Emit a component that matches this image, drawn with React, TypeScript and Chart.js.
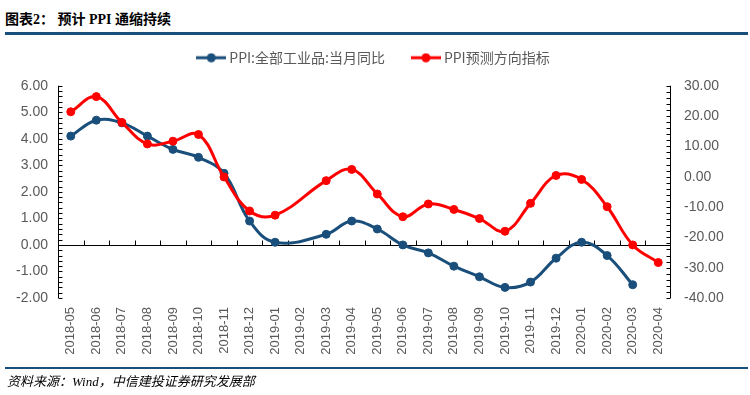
import React, { useEffect, useRef } from "react";
import { Chart, registerables } from "chart.js";

Chart.register(...registerables);

const categories = [
  "2018-05", "2018-06", "2018-07", "2018-08", "2018-09", "2018-10", "2018-11", "2018-12",
  "2019-01", "2019-02", "2019-03", "2019-04", "2019-05", "2019-06", "2019-07", "2019-08",
  "2019-09", "2019-10", "2019-11", "2019-12", "2020-01", "2020-02", "2020-03", "2020-04",
];

// PPI: all industrial products, YoY (left axis, %)
const ppiYoY: (number | null)[] = [
  4.1, 4.7, 4.6, 4.1, 3.6, 3.3, 2.7, 0.9,
  0.1, null, 0.4, 0.9, 0.6, 0.0, -0.3, -0.8,
  -1.2, -1.6, -1.4, -0.5, 0.1, -0.4, -1.5, null,
];

// PPI forecast direction indicator (right axis)
const ppiSignal: (number | null)[] = [
  21.4, 26.4, 17.9, 10.8, 11.7, 13.9, -0.1, -11.3,
  -12.7, null, -1.3, 2.4, -5.7, -13.2, -9.0, -10.8,
  -13.8, -18.0, -8.8, 0.4, -0.9, -9.9, -22.5, -28.3,
];

const seriesNames = ["PPI:全部工业品:当月同比", "PPI预测方向指标"];
const leftRange = [-2, 6];
const rightRange = [-40, 30];

const BLUE = "#1A4E7B";
const RED = "#FF0000";
const TEXT = "#595959";
const TICK_FONT = '"Liberation Sans", Arial, sans-serif';

function legendIcon(color: string) {
  const c = document.createElement("canvas");
  c.width = 30;
  c.height = 10;
  const ctx = c.getContext("2d")!;
  ctx.strokeStyle = color;
  ctx.lineWidth = 3;
  ctx.beginPath();
  ctx.moveTo(0, 5);
  ctx.lineTo(30, 5);
  ctx.stroke();
  ctx.fillStyle = color;
  ctx.beginPath();
  ctx.arc(15, 5, 4.5, 0, Math.PI * 2);
  ctx.fill();
  return c;
}

const LEGEND_BOX_H = 65;

const legendSizer = {
  id: "legendSizer",
  beforeLayout(chart: any) {
    const lg = chart.legend;
    if (lg && !lg.__patched) {
      const orig = lg.fit.bind(lg);
      lg.fit = function () {
        orig();
        this.height = LEGEND_BOX_H;
      };
      lg.__patched = true;
    }
  },
};

const axisDecor = {
  id: "axisDecor",
  beforeDatasetsDraw(chart: any) {
    const { ctx, chartArea } = chart;
    const { left, right, top, bottom } = chartArea;
    const x = chart.scales.x;
    const y = chart.scales.y;
    const y1 = chart.scales.y1;
    const seg = (x1: number, yA: number, x2: number, yB: number) => {
      ctx.beginPath();
      ctx.moveTo(x1, yA);
      ctx.lineTo(x2, yB);
      ctx.stroke();
    };
    ctx.save();
    ctx.strokeStyle = "#000";
    ctx.lineWidth = 1;
    // zero line (category axis)
    const y0 = Math.round(y.getPixelForValue(0)) + 0.5;
    seg(left, y0, right, y0);
    for (let i = 1; i < categories.length; i++) {
      const xb = Math.round((x.getPixelForValue(i - 1) + x.getPixelForValue(i)) / 2) + 0.5;
      seg(xb, y0, xb, y0 - 5);
    }
    // left axis
    const lx = Math.round(left) + 0.5;
    seg(lx, top, lx, bottom);
    const lSteps = Math.round((leftRange[1] - leftRange[0]) / 0.2);
    for (let k = 0; k <= lSteps; k++) {
      const v = leftRange[0] + k * 0.2;
      const py = Math.round(y.getPixelForValue(v)) + 0.5;
      seg(lx, py, lx + 4, py);
    }
    // right axis
    const rx = Math.round(right) - 0.5;
    seg(rx, top, rx, bottom);
    const rSteps = Math.round((rightRange[1] - rightRange[0]) / 2);
    for (let k = 0; k <= rSteps; k++) {
      const v = rightRange[0] + k * 2;
      const py = Math.round(y1.getPixelForValue(v)) + 0.5;
      seg(rx, py, rx - 4, py);
    }
    ctx.restore();
  },
};

function PpiChart() {
  const ref = useRef<HTMLCanvasElement | null>(null);
  useEffect(() => {
    if (!ref.current) return;
    const icons = [legendIcon(BLUE), legendIcon(RED)];
    const chart = new Chart(ref.current, {
      type: "line",
      data: {
        labels: categories,
        datasets: [
          {
            label: seriesNames[0],
            data: ppiYoY,
            yAxisID: "y",
            borderColor: BLUE,
            backgroundColor: BLUE,
            pointBackgroundColor: BLUE,
            pointBorderColor: BLUE,
            borderWidth: 3,
            pointRadius: 4,
            pointBorderWidth: 1,
            tension: 0.4,
            spanGaps: true,
            order: 1,
          },
          {
            label: seriesNames[1],
            data: ppiSignal,
            yAxisID: "y1",
            borderColor: RED,
            backgroundColor: RED,
            pointBackgroundColor: RED,
            pointBorderColor: RED,
            borderWidth: 3,
            pointRadius: 4,
            pointBorderWidth: 1,
            tension: 0.4,
            spanGaps: true,
            order: 0,
          },
        ],
      },
      options: {
        responsive: false,
        animation: false,
        devicePixelRatio: 1,
        layout: { padding: { top: 20.7, left: 0, right: 0, bottom: 0 } },
        plugins: {
          tooltip: { enabled: false },
          legend: {
            display: true,
            position: "top",
            labels: {
              usePointStyle: true,
              pointStyleWidth: 22,
              padding: 30,
              color: TEXT,
              font: { family: '"Noto Sans CJK SC", sans-serif', size: 14 },
              sort: (a: any, b: any) => a.datasetIndex - b.datasetIndex,
              generateLabels: (c: any) => {
                const items = (Chart.defaults.plugins.legend.labels as any).generateLabels(c);
                return items.map((it: any) => ({ ...it, pointStyle: icons[it.datasetIndex] }));
              },
            },
          },
        },
        scales: {
          x: {
            type: "category",
            offset: true,
            grid: { display: false, drawTicks: false },
            border: { display: false },
            ticks: {
              autoSkip: false,
              minRotation: 90,
              maxRotation: 90,
              padding: 9,
              color: TEXT,
              font: { family: TICK_FONT, size: 13 },
            },
            afterFit: (s: any) => {
              s.height = 97;
            },
          },
          y: {
            position: "left",
            min: leftRange[0],
            max: leftRange[1],
            grid: { display: false, drawTicks: false },
            border: { display: false },
            ticks: {
              stepSize: 1,
              padding: 10,
              color: TEXT,
              font: { family: TICK_FONT, size: 14 },
              callback: (v: any) => Number(v).toFixed(2),
            },
            afterFit: (s: any) => {
              s.width = 58;
            },
          },
          y1: {
            position: "right",
            min: rightRange[0],
            max: rightRange[1],
            grid: { display: false, drawTicks: false },
            border: { display: false },
            ticks: {
              stepSize: 10,
              padding: 13,
              color: TEXT,
              font: { family: TICK_FONT, size: 14 },
              callback: (v: any) => Number(v).toFixed(2),
            },
            afterFit: (s: any) => {
              s.width = 79;
            },
          },
        },
      },
      plugins: [legendSizer, axisDecor],
    } as any);
    return () => chart.destroy();
  }, []);
  return (
    <canvas
      ref={ref}
      width={750}
      height={395}
      style={{ position: "absolute", left: 0, top: 0, width: 750, height: 395 }}
    />
  );
}

export default function App() {
  return (
    <div
      style={{
        position: "absolute",
        left: 0,
        top: 0,
        width: 750,
        height: 395,
        background: "#fff",
        overflow: "hidden",
      }}
    >
      <div
        style={{
          position: "absolute",
          left: 5,
          top: 12,
          lineHeight: "16px",
          fontFamily: '"Liberation Serif", "Noto Sans CJK SC", serif',
          fontWeight: "bold",
          fontSize: 14,
          color: "#000",
          whiteSpace: "pre",
        }}
      >
        图表2： 预计 PPI 通缩持续
      </div>
      <div style={{ position: "absolute", left: 5, top: 32, width: 743, height: 3, background: BLUE }} />
      <PpiChart />
      <div style={{ position: "absolute", left: 5, top: 367, width: 743, height: 2, background: BLUE }} />
      <div
        style={{
          position: "absolute",
          left: 7,
          top: 374,
          lineHeight: "16px",
          fontFamily: '"Liberation Serif", "Noto Sans CJK SC", serif',
          fontStyle: "italic",
          fontSize: 13,
          color: "#000",
          whiteSpace: "pre",
        }}
      >
        资料来源：Wind，中信建投证券研究发展部
      </div>
    </div>
  );
}
